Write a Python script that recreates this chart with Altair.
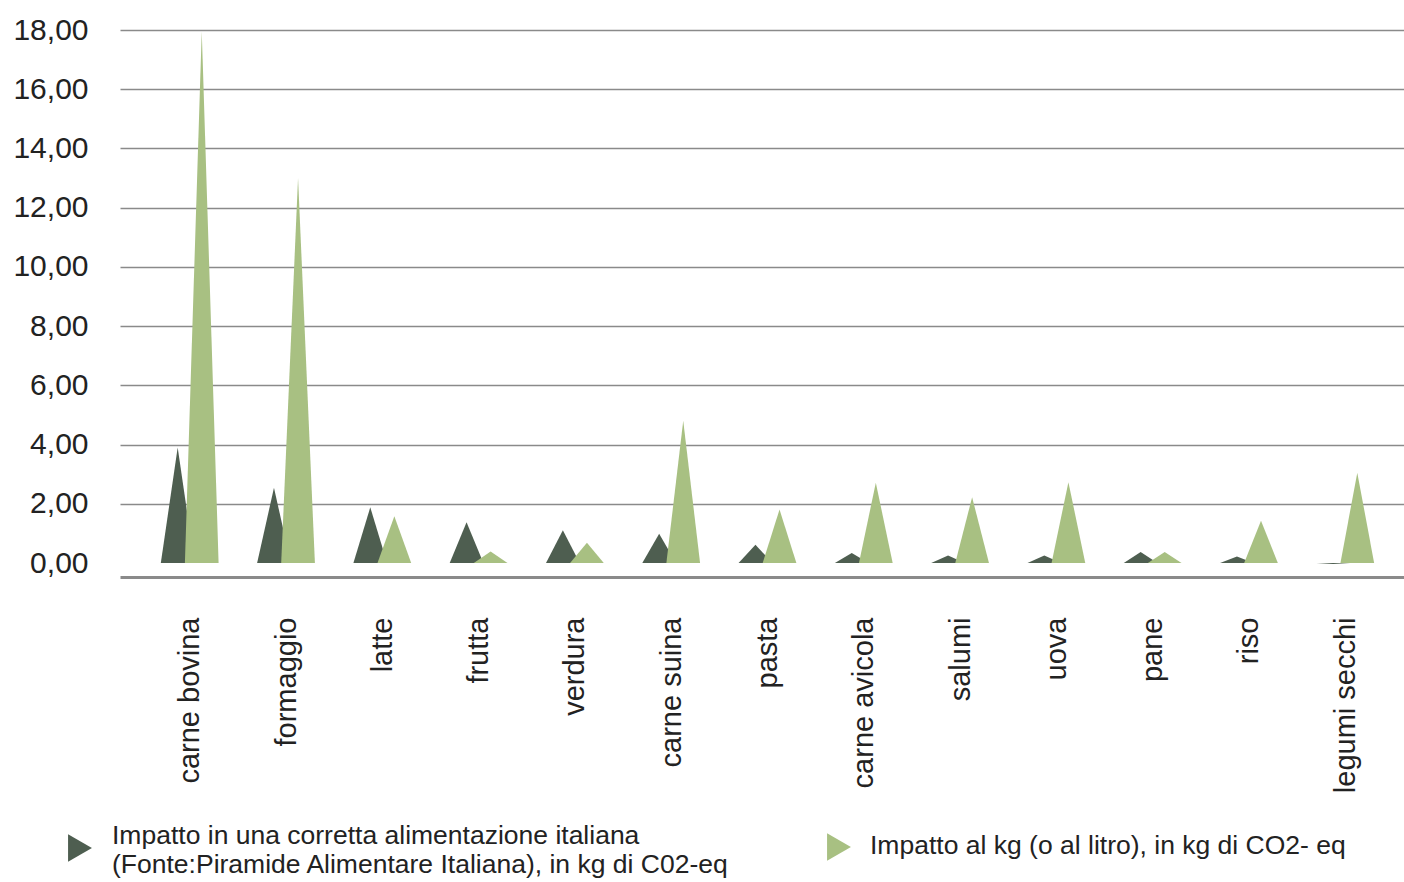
import json
import altair as alt
import pandas as pd

# ---------------- data ----------------
categories = ["carne bovina", "formaggio", "latte", "frutta", "verdura",
              "carne suina", "pasta", "carne avicola", "salumi", "uova",
              "pane", "riso", "legumi secchi"]

series_names = [
    "Impatto in una corretta alimentazione italiana\n(Fonte:Piramide Alimentare Italiana), in kg di C02-eq",
    "Impatto al kg (o al litro), in kg di CO2- eq",
]

impatto_dieta = [3.90, 2.54, 1.88, 1.38, 1.11, 0.99, 0.62, 0.34, 0.25, 0.25, 0.37, 0.22, -0.03]
impatto_kg = [17.95, 13.00, 1.58, 0.39, 0.68, 4.80, 1.81, 2.71, 2.22, 2.73, 0.37, 1.43, 3.05]

y_ticks = [0, 2, 4, 6, 8, 10, 12, 14, 16, 18]
colors = ["#4e5e50", "#a8c082"]
FONT = "Liberation Sans"
TEXT = "#222222"

# ---------------- triangle ("pyramid") geometry ----------------
SHIFT = 0.125   # offset of each series from the category centre
HALF = 0.175    # half width of a triangle base

rows = []
for s_idx, (name, vals) in enumerate(zip(series_names, [impatto_dieta, impatto_kg])):
    shift = -SHIFT if s_idx == 0 else SHIFT
    for i, (cat, v) in enumerate(zip(categories, vals)):
        c = i + shift
        key = f"{s_idx}-{i}"
        for x, y in [(c - HALF, 0.0), (c, v), (c + HALF, 0.0)]:
            rows.append({"serie": name, "categoria": cat, "key": key, "x": x, "valore": y})
df = pd.DataFrame(rows)

cat_expr = json.dumps(categories) + "[datum.value]"

x_enc = alt.X(
    "x:Q",
    scale=alt.Scale(domain=[-0.724, 12.61], nice=False, zero=False),
    axis=alt.Axis(
        values=list(range(len(categories))),
        labelExpr=cat_expr,
        labelAngle=-90,
        labelFont=FONT,
        labelFontSize=29,
        labelColor=TEXT,
        labelPadding=40,
        labelOverlap=False,
        ticks=False,
        tickSize=0,
        grid=False,
        domain=True,
        domainColor="#8a8a8a",
        domainWidth=3,
        offset=14,
        title=None,
    ),
)

y_enc = alt.Y(
    "valore:Q",
    stack=None,
    scale=alt.Scale(domain=[0, 18], nice=False),
    axis=alt.Axis(
        values=y_ticks,
        labelExpr="replace(format(datum.value, '.2f'), '.', ',')",
        labelFont=FONT,
        labelFontSize=30,
        labelColor=TEXT,
        labelPadding=32,
        ticks=False,
        tickSize=0,
        domain=False,
        grid=True,
        gridColor="#8a8a8a",
        gridWidth=1.6,
        gridOpacity={"condition": {"test": "datum.value === 0", "value": 0}, "value": 1},
        title=None,
    ),
)

color_enc = alt.Color(
    "serie:N",
    scale=alt.Scale(domain=series_names, range=colors),
    legend=None,
)

base = alt.Chart(df).mark_area(opacity=1, strokeWidth=0).encode(
    x=x_enc, y=y_enc, color=color_enc, detail="key:N"
)

dark = base.transform_filter(alt.datum.serie == series_names[0])
light = base.transform_filter(alt.datum.serie == series_names[1])

# ---------------- legend (drawn as marks below the plot) ----------------
legend_layers = []
legend_pos = [  # (symbol x, symbol y, text x, text y) relative to the plot origin
    (-40, 818, -8, 806),
    (719, 817, 750, 816),
]
for k, name in enumerate(series_names):
    sx, sy, tx, ty = legend_pos[k]
    ldf = pd.DataFrame({"serie": [name]})
    sym = alt.Chart(ldf).mark_point(
        shape="triangle-right", filled=True, size=760, opacity=1, strokeWidth=0
    ).encode(x=alt.value(sx), y=alt.value(sy), color=alt.value(colors[k]))
    txt = alt.Chart(ldf).mark_text(
        align="left", baseline="middle", lineBreak="\n", font=FONT,
        fontSize=26.5, lineHeight=29, color=TEXT,
    ).encode(x=alt.value(tx), y=alt.value(ty), text="serie:N")
    legend_layers += [sym, txt]

chart = alt.layer(dark, light, *legend_layers).properties(
    width=1284,
    height=533,
    padding={"left": 120, "top": 30, "right": 0, "bottom": 319},
    autosize=alt.AutoSizeParams(type="none"),
    background="white",
).configure_view(stroke=None)

chart.save("out.html", embed_options={"renderer": "svg", "actions": False})
